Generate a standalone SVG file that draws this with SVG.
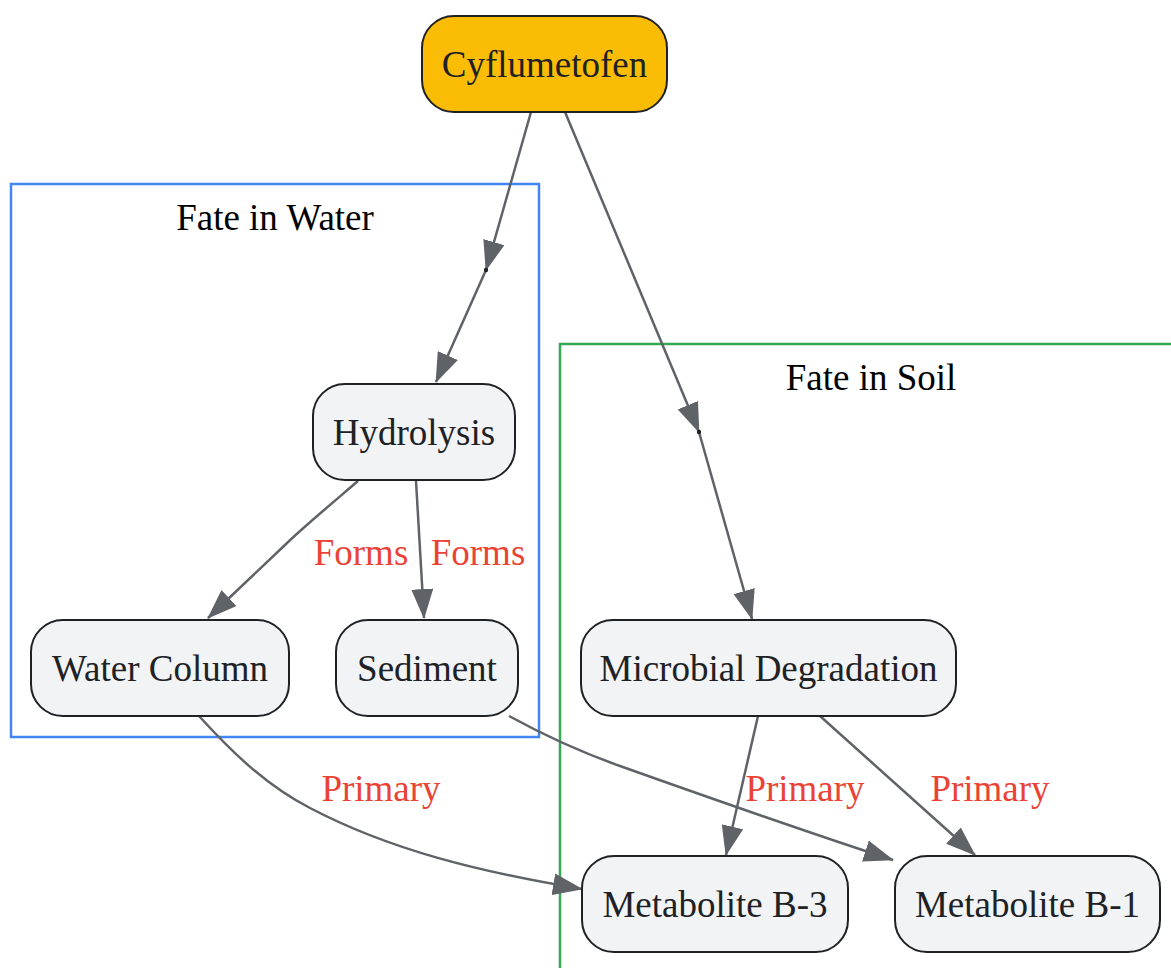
<svg xmlns="http://www.w3.org/2000/svg" width="1171" height="968" viewBox="0 0 1171 968">
<style>
.node rect{fill:#F1F3F4;stroke:#202124;stroke-width:2}
.node text{font-family:"Liberation Serif",serif;font-size:37px;fill:#202124;text-anchor:middle}
.root rect{fill:#FBBC05}
.cl{fill:none;stroke-width:2.5}
.clt{font-family:"Liberation Serif",serif;font-size:37px;fill:#000;text-anchor:middle}
.e{fill:none;stroke:#5F6368;stroke-width:2.5}
.lbl{font-family:"Liberation Serif",serif;font-size:37px;fill:#EA4335;text-anchor:middle}
</style>
<defs>
<marker id="ah" markerUnits="userSpaceOnUse" viewBox="0 0 30 22" markerWidth="30" markerHeight="22" refX="29" refY="11" orient="auto">
<path d="M0,0 L30,11 L0,22 z" fill="#5F6368"/>
</marker>
</defs>
<g id="cluster-water">
<rect class="cl" x="11" y="184" width="528" height="553" stroke="#4285F4"/>
<text class="clt" x="275" y="230">Fate in Water</text>
</g>
<g id="cluster-soil">
<rect class="cl" x="560" y="344" width="620" height="640" stroke="#34A853"/>
<text class="clt" x="871" y="390">Fate in Soil</text>
</g>
<g id="connectors">
<path class="e" d="M531,112 L486,270" marker-end="url(#ah)"/>
<path class="e" d="M486,270 L436,382" marker-end="url(#ah)"/>
<path class="e" d="M565,112 L699,432" marker-end="url(#ah)"/>
<path class="e" d="M699,432 L752,619" marker-end="url(#ah)"/>
<circle cx="486" cy="270" r="2.2" fill="#202124"/>
<circle cx="699" cy="432" r="2.2" fill="#202124"/>
<path class="e" d="M358,481 C330,505 300,530 285,545 L208,618" marker-end="url(#ah)"/>
<path class="e" d="M416,481 L424,618" marker-end="url(#ah)"/>
<path class="e" d="M199,716 C230,750 265,785 310,808 C390,850 480,872 582,889" marker-end="url(#ah)"/>
<path class="e" d="M509,716 C540,733 575,750 620,766 C710,798 800,830 893,860" marker-end="url(#ah)"/>
<path class="e" d="M758,716 L726,855" marker-end="url(#ah)"/>
<path class="e" d="M820,716 L975,855" marker-end="url(#ah)"/>
<text class="lbl" x="361" y="565">Forms</text>
<text class="lbl" x="478" y="565">Forms</text>
<text class="lbl" x="381" y="801">Primary</text>
<text class="lbl" x="805" y="801">Primary</text>
<text class="lbl" x="990" y="801">Primary</text>
</g>
<g id="n-cyflumetofen" class="node root">
<rect x="422" y="16" width="245" height="96" rx="32"/>
<text x="544.5" y="77">Cyflumetofen</text>
</g>
<g id="n-hydrolysis" class="node">
<rect x="313" y="384" width="202" height="96" rx="32"/>
<text x="414" y="445">Hydrolysis</text>
</g>
<g id="n-watercolumn" class="node">
<rect x="31" y="620" width="258" height="96" rx="32"/>
<text x="160" y="681">Water Column</text>
</g>
<g id="n-sediment" class="node">
<rect x="336" y="620" width="182" height="96" rx="32"/>
<text x="427" y="681">Sediment</text>
</g>
<g id="n-microbial" class="node">
<rect x="581" y="620" width="375" height="96" rx="32"/>
<text x="768.5" y="681">Microbial Degradation</text>
</g>
<g id="n-b3" class="node">
<rect x="582" y="856" width="266" height="96" rx="32"/>
<text x="715" y="917">Metabolite B-3</text>
</g>
<g id="n-b1" class="node">
<rect x="895" y="856" width="265" height="96" rx="32"/>
<text x="1027.5" y="917">Metabolite B-1</text>
</g>
</svg>
